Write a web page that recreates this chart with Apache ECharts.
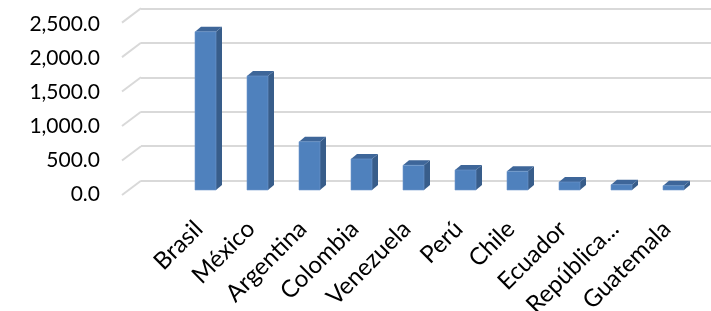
<!DOCTYPE html>
<html>
<head>
<meta charset="utf-8">
<script src="https://cdn.jsdelivr.net/npm/echarts@6/dist/echarts.min.js"></script>
<style>html,body{margin:0;padding:0;background:#fff}#c{width:711px;height:311px}</style>
</head>
<body>
<div id="c"></div>
<script>
var categories = ['Brasil', 'México', 'Argentina', 'Colombia', 'Venezuela', 'Perú', 'Chile', 'Ecuador', 'República...', 'Guatemala'];
var values = [2295, 1653, 700, 450, 358, 290, 271, 116, 77, 62];
var yTicks = [0, 500, 1000, 1500, 2000, 2500];

var FONT = 'Lato';
var DEPTH_FLOOR = [-19, 14.3];
var DEPTH_BAR = [6, -5];
var BAR_W = 21;

var chart = echarts.init(document.getElementById('c'), null, {renderer: 'canvas'});

function fmt(v) {
  return v.toLocaleString('en-US', {minimumFractionDigits: 1, maximumFractionDigits: 1});
}

var option = {
  animation: false,
  backgroundColor: '#ffffff',
  grid: [
    // back wall
    {left: 141, right: 0, top: 8.3, height: 172.4, outerBoundsMode: 'none', containLabel: false},
    // bar front plane
    {left: 179.5, width: 520, top: 17.6, height: 172.4, outerBoundsMode: 'none', containLabel: false},
    // front plane for y labels
    {left: 106, width: 10, top: 24.5, height: 169.5, outerBoundsMode: 'none', containLabel: false},
    // floor front edge for category labels
    {left: 172.8, width: 520, top: 22.6, height: 172.4, outerBoundsMode: 'none', containLabel: false}
  ],
  xAxis: [
    {gridIndex: 0, type: 'value', min: 0, max: 1, show: false},
    {gridIndex: 1, type: 'category', data: categories, show: false},
    {gridIndex: 2, type: 'value', min: 0, max: 1, show: false},
    {gridIndex: 3, type: 'category', data: categories,
      axisLine: {show: false}, axisTick: {show: false},
      axisLabel: {rotate: 45, interval: 0, fontFamily: FONT, fontSize: 24, color: '#000', margin: 30}}
  ],
  yAxis: [
    {gridIndex: 0, type: 'value', min: 0, max: 2500, interval: 500,
      axisLine: {show: false}, axisTick: {show: false}, axisLabel: {show: false},
      splitLine: {lineStyle: {color: '#d9d9d9', width: 2}}},
    {gridIndex: 1, type: 'value', min: 0, max: 2500, interval: 500, show: false, splitLine: {show: false}},
    {gridIndex: 2, type: 'value', min: 0, max: 2500, interval: 500,
      axisLine: {show: false}, axisTick: {show: false}, splitLine: {show: false},
      axisLabel: {fontFamily: FONT, fontSize: 21, color: '#000', margin: 6, formatter: fmt}},
    {gridIndex: 3, type: 'value', min: 0, max: 2500, show: false, splitLine: {show: false}}
  ],
  series: [
    {
      type: 'custom', xAxisIndex: 0, yAxisIndex: 0, clip: false, silent: true,
      data: yTicks.map(function (t) { return [0, t]; }),
      renderItem: function (params, api) {
        var p = api.coord([0, api.value(1)]);
        return {type: 'line', shape: {x1: p[0], y1: p[1], x2: p[0] + DEPTH_FLOOR[0], y2: p[1] + DEPTH_FLOOR[1]},
          style: {stroke: '#d9d9d9', lineWidth: 2}};
      }
    },
    {
      type: 'custom', xAxisIndex: 1, yAxisIndex: 1, clip: false, silent: true,
      data: values.map(function (v, i) { return [i, v]; }),
      renderItem: function (params, api) {
        var top = api.coord([api.value(0), api.value(1)]);
        var bot = api.coord([api.value(0), 0]);
        var x0 = top[0] - BAR_W / 2, x1 = top[0] + BAR_W / 2;
        var yt = top[1], yb = bot[1];
        var dx = DEPTH_BAR[0], dy = DEPTH_BAR[1];
        return {type: 'group', children: [
          {type: 'polygon', shape: {points: [[x1, yt], [x1 + dx, yt + dy], [x1 + dx, yb + dy], [x1, yb]]},
            style: {fill: '#385d8a'}},
          {type: 'polygon', shape: {points: [[x0, yt], [x1, yt], [x1 + dx, yt + dy], [x0 + dx, yt + dy]]},
            style: {fill: '#3e6699'}},
          {type: 'rect', shape: {x: x0, y: yt, width: BAR_W, height: yb - yt},
            style: {fill: '#4f81bd', stroke: '#6f98cc', lineWidth: 0.6}}
        ]};
      }
    }
  ]
};
chart.setOption(option);
</script>
</body>
</html>
